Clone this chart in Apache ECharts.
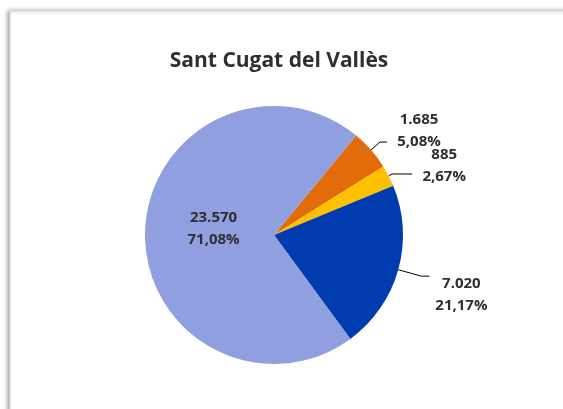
<!DOCTYPE html>
<html>
<head>
<meta charset="utf-8">
<script src="https://cdn.jsdelivr.net/npm/echarts@6/dist/echarts.min.js"></script>
<style>
html,body{margin:0;padding:0;background:#fff;}
#chart{width:563px;height:409px;}
</style>
</head>
<body>
<div id="chart"></div>
<script>
const title = 'Sant Cugat del Vallès';
const categories = ['A', 'B', 'C', 'D'];
const values = [1685, 885, 7020, 23570];
const colors = ['#E36C0A', '#FFC000', '#003BB0', '#8F9FE0'];

function fmtNum(v) {
  return String(v).replace(/\B(?=(\d{3})+(?!\d))/g, '.');
}
function fmtLabel(p) {
  return '{c|' + fmtNum(p.value) + '}\n{c|' + p.percent.toFixed(2).replace('.', ',') + '%}';
}

const textStyle = {
  fontFamily: 'Open Sans, sans-serif',
  fontWeight: 'bold',
  fontSize: 15,
  color: '#2F2F2F',
  lineHeight: 22
};

const labelBase = Object.assign({}, textStyle, {
  formatter: fmtLabel,
  rich: { c: Object.assign({}, textStyle, { width: 54, align: 'center' }) }
});

const itemCfg = [
  { label: { position: 'outside', padding: [0, 0, 22, 0] }, labelLine: { show: true, length: 12, length2: 7 } },
  { label: { position: 'outside', padding: [0, 0, 16, 0] }, labelLine: { show: true, length: 4, length2: 20 } },
  { label: { position: 'outside', padding: [38, 0, 0, 0] }, labelLine: { show: true, length: 24, length2: 8 } },
  { label: { position: 'inside', padding: [0, 0, 8, 14] }, labelLine: { show: false } }
];

const data = values.map((v, i) => ({
  name: categories[i],
  value: v,
  itemStyle: { color: colors[i] },
  label: Object.assign({}, labelBase, itemCfg[i].label),
  labelLine: Object.assign({ lineStyle: { color: '#000', width: 1 } }, itemCfg[i].labelLine)
}));

const chart = echarts.init(document.getElementById('chart'), null, { renderer: 'canvas' });
chart.setOption({
  animation: false,
  backgroundColor: '#fff',
  graphic: [{
    type: 'rect',
    shape: { x: 10, y: 11, width: 600, height: 450 },
    style: { fill: '#fff', stroke: '#D9D9D9', lineWidth: 1, shadowBlur: 4, shadowColor: 'rgba(0,0,0,0.35)', shadowOffsetX: -2, shadowOffsetY: 0 },
    z: -10
  }],
  title: {
    text: title,
    left: 274,
    textAlign: 'center',
    top: 46,
    textStyle: { fontFamily: 'Open Sans, sans-serif', fontWeight: 'bold', fontSize: 21, color: '#2F2F2F' }
  },
  series: [{
    type: 'pie',
    center: [274, 235],
    radius: [0, 129],
    startAngle: 50.4,
    clockwise: true,
    percentPrecision: 2,
    avoidLabelOverlap: false,
    labelLayout: { hideOverlap: false },
    data: data
  }]
});
</script>
</body>
</html>
